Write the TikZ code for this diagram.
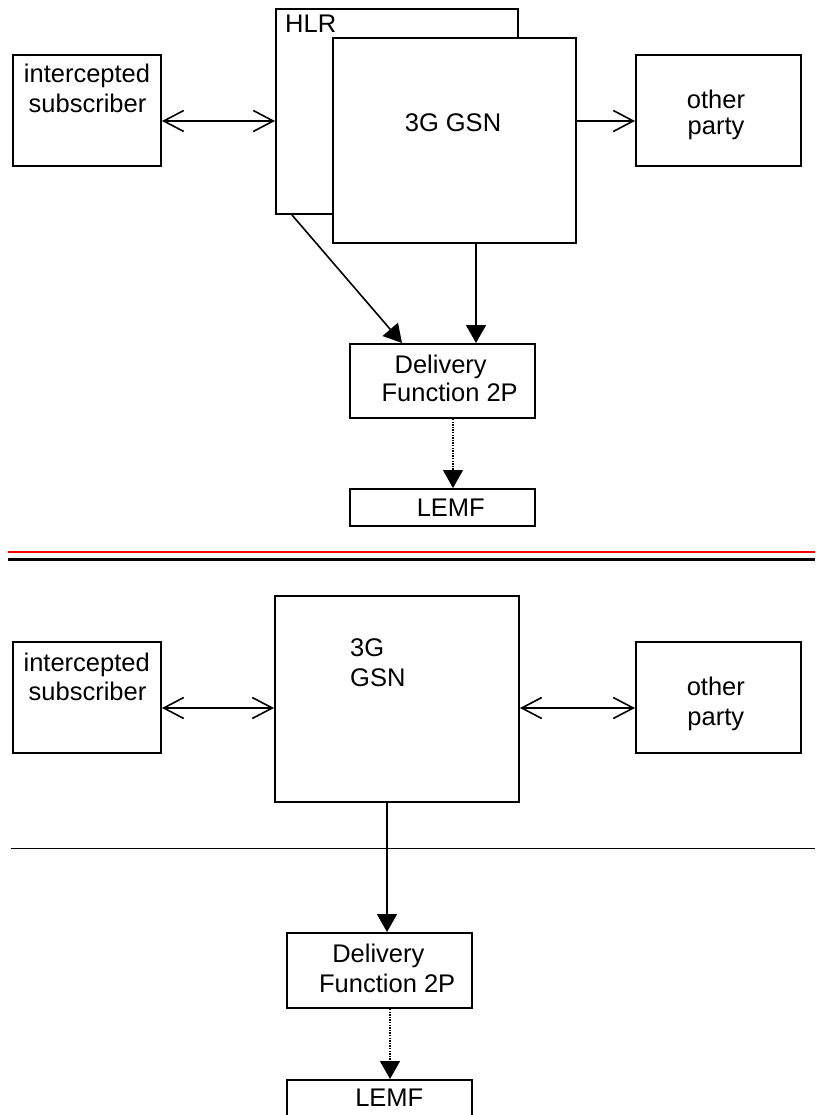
\documentclass[tikz,border=0pt]{standalone}
\usepackage{fontspec}
\setmainfont{Liberation Sans}
\usetikzlibrary{arrows.meta}
\begin{document}
\begin{tikzpicture}[x=1pt,y=-1pt,
  box/.style={draw,line width=2pt,fill=white,inner sep=0pt,rectangle},
  lbl/.style={anchor=base,inner sep=0pt,font=\fontsize{25.5}{29}\selectfont},
  lblw/.style={anchor=base west,inner sep=0pt,font=\fontsize{25.5}{29}\selectfont},
  conn/.style={line width=1.6pt},
  openboth/.style={conn,{Straight Barb[length=20pt,width=21pt]}-{Straight Barb[length=20pt,width=21pt]}},
  openone/.style={conn,-{Straight Barb[length=20pt,width=21pt]}},
  solidhead/.style={conn,-{Triangle[length=18pt,width=20pt]}},
  dothead/.style={line width=1.3pt,dash pattern=on 1.3pt off 1.3pt,-{Triangle[length=18pt,width=20pt]}}
]
\useasboundingbox (0,0) rectangle (815,1115);

% ---------------- upper figure ----------------
\node[box,minimum width=148pt,minimum height=111pt] (isub1) at (87,110.5) {};
\node[box,minimum width=242pt,minimum height=205pt] (hlr) at (397,111.5) {};
\node[box,minimum width=243pt,minimum height=205pt] (gsn1) at (454.5,140.5) {};
\node[box,minimum width=165pt,minimum height=111pt] (other1) at (718.5,110.5) {};
\node[box,minimum width=185pt,minimum height=74pt] (df1) at (442.5,381) {};
\node[box,minimum width=185pt,minimum height=37pt] (lemf1) at (442.5,507.5) {};

\node[lbl] (t-isub1a) at (87,83) {intercepted};
\node[lbl] (t-isub1b) at (87.5,113) {subscriber};
\node[lblw] (t-hlr) at (285,32.5) {HLR};
\node[lbl] (t-gsn1) at (453,131.7) {3G GSN};
\node[lbl] (t-other1a) at (716,108.3) {other};
\node[lbl] (t-other1b) at (716,135) {party};
\node[lbl] (t-df1a) at (440.7,373) {Delivery};
\node[lbl] (t-df1b) at (449.7,401.7) {Function 2P};
\node[lbl] (t-lemf1) at (450.8,516.7) {LEMF};

\coordinate (ya) at (0,121);
\coordinate (xa) at (476,0);
\coordinate (xb) at (453,0);
\draw[openboth] (isub1.east |- ya) -- (hlr.west |- ya);
\draw[openone] (gsn1.east |- ya) -- (other1.west |- ya);
\draw[solidhead] ([xshift=-105pt]hlr.south) -- ([xshift=-40.5pt]df1.north);
\draw[solidhead] (gsn1.south -| xa) -- (df1.north -| xa);
\draw[dothead] (df1.south -| xb) -- (lemf1.north -| xb);

% ---------------- separator ----------------
\coordinate (sepL1) at (8,552);
\coordinate (sepR1) at (815,552);
\coordinate (sepL2) at (8,559);
\coordinate (sepR2) at (815,559);
\draw[red,line width=2pt] (sepL1) -- (sepR1);
\draw[black,line width=3pt] (sepL2) -- (sepR2);

% ---------------- lower figure ----------------
\node[box,minimum width=148pt,minimum height=111pt] (isub2) at (87,697.5) {};
\node[box,minimum width=244pt,minimum height=206pt] (gsn2) at (397,699) {};
\node[box,minimum width=165pt,minimum height=111pt] (other2) at (718.5,697.5) {};
\node[box,minimum width=185pt,minimum height=75pt] (df2) at (379.5,970.5) {};
\node[box,minimum width=185pt,minimum height=45pt] (lemf2) at (379.5,1102.5) {};

\node[lbl] (t-isub2a) at (86.7,671.7) {intercepted};
\node[lbl] (t-isub2b) at (87.5,700.7) {subscriber};
\node[lblw] (t-gsn2a) at (350,656.7) {3G};
\node[lblw] (t-gsn2b) at (350,686) {GSN};
\node[lbl] (t-other2a) at (715.8,695) {other};
\node[lbl] (t-other2b) at (715.8,725) {party};
\node[lbl] (t-df2a) at (378.3,962.7) {Delivery};
\node[lbl] (t-df2b) at (387.2,992.7) {Function 2P};
\node[lbl] (t-lemf2) at (389.3,1106.7) {LEMF};

\coordinate (yb) at (0,708);
\coordinate (xc) at (387,0);
\coordinate (xd) at (390,0);
\coordinate (lineL) at (11,848);
\coordinate (lineR) at (815,848);
\draw[openboth] (isub2.east |- yb) -- (gsn2.west |- yb);
\draw[openboth] (gsn2.east |- yb) -- (other2.west |- yb);
\draw[line width=1pt] (lineL) -- (lineR);
\draw[solidhead] (gsn2.south -| xc) -- (df2.north -| xc);
\draw[dothead] (df2.south -| xd) -- (lemf2.north -| xd);
\end{tikzpicture}
\end{document}
